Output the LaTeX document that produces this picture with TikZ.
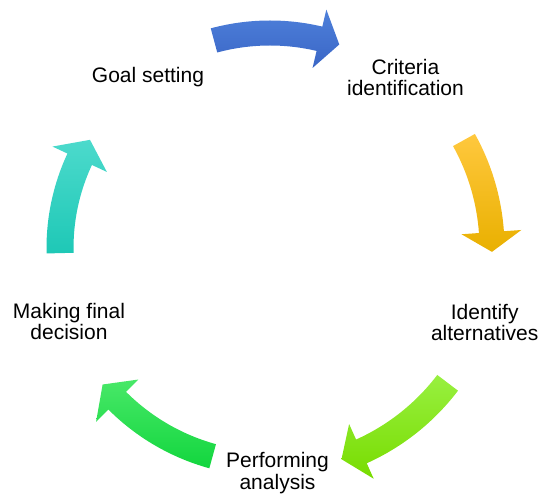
\documentclass[tikz,border=0pt]{standalone}
\usepackage{fontspec}
\setmainfont{Liberation Sans}
\usetikzlibrary{calc}

\definecolor{blueTop}{HTML}{4E80DA}
\definecolor{blueBot}{HTML}{3A66C6}
\definecolor{goldTop}{HTML}{FFC83E}
\definecolor{goldBot}{HTML}{E9B000}
\definecolor{limeTop}{HTML}{98F040}
\definecolor{limeBot}{HTML}{78DC00}
\definecolor{greenTop}{HTML}{48E868}
\definecolor{greenBot}{HTML}{12D63E}
\definecolor{tealTop}{HTML}{4CDACC}
\definecolor{tealBot}{HTML}{1EC8B6}

\tikzset{
  label/.style={font=\fontsize{21}{21.5}\selectfont, align=center, anchor=base, inner sep=0pt},
}

% Curved band arrow around centre C, running clockwise.
% #1 shading, #2 radius, #3 tail angle, #4 head base angle, #5 tip angle, #6 band half width
\newcommand\cyclearrow[6]{%
  \pgfmathsetmacro\rOut{#2+#6}%
  \pgfmathsetmacro\rIn{#2-#6}%
  \pgfmathsetmacro\hOut{#2+30}%
  \pgfmathsetmacro\hIn{#2-30}%
  \shade[#1]
    ($(C)+(#3:\rOut pt)$) arc[start angle=#3, end angle=#4, radius=\rOut pt]
    -- ($(C)+(#4:\hOut pt)$)
    -- ($(C)+(#5:#2 pt)$)
    -- ($(C)+(#4:\hIn pt)$)
    -- ($(C)+(#4:\rIn pt)$)
    arc[start angle=#4, end angle=#3, radius=\rIn pt]
    -- cycle;
}

\begin{document}
\begin{tikzpicture}[x=1pt, y=1pt]
  \useasboundingbox (0,0) rectangle (541,494);
  \coordinate (C) at (270,246);

  % the five arrows of the cycle
  \cyclearrow{top color=blueTop, bottom color=blueBot}{215}{105.1}{76.7}{71.2}{12.5}
  \cyclearrow{top color=goldTop, bottom color=goldBot}{222}{29.1}{4.1}{-1}{12.5}
  \cyclearrow{top color=limeTop, bottom color=limeBot}{223}{-37.2}{-65.8}{-71.3}{13}
  \cyclearrow{top color=greenTop, bottom color=greenBot}{216}{-105.4}{-135}{-140.8}{12.5}
  \cyclearrow{top color=tealTop, bottom color=tealBot}{210}{181.4}{155}{149}{13.5}

  % stage labels (base anchor sits on the last line)
  \node[label] (goal) at (148,411.7) {Goal setting};
  \node[label] (criteria) at (405.5,398.2) {Criteria\\identification};
  \node[label] (identify) at (484.7,153.2) {Identify\\alternatives};
  \node[label] (perform) at (277.5,4.5) {Performing\\analysis};
  \node[label] (decide) at (69,154.2) {Making final\\decision};
\end{tikzpicture}
\end{document}
